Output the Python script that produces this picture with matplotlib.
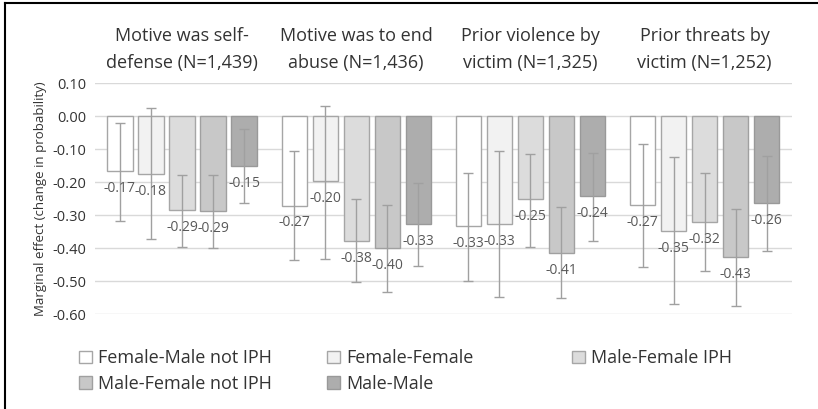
import numpy as np
import matplotlib
matplotlib.use('Agg')
import matplotlib.pyplot as plt
from matplotlib.patches import Patch
from matplotlib.lines import Line2D

plt.rcParams['font.family'] = ['Open Sans', 'DejaVu Sans']

groups = ['Motive was self-\ndefense (N=1,439)', 'Motive was to end\nabuse (N=1,436)',
          'Prior violence by\nvictim (N=1,325)', 'Prior threats by\nvictim (N=1,252)']
series = ['Female-Male not IPH', 'Female-Female', 'Male-Female IPH',
          'Male-Female not IPH', 'Male-Male']

# point estimates per series, one value per group
fm_not_iph = [-0.168, -0.271, -0.333, -0.270]
ff = [-0.176, -0.198, -0.327, -0.347]
mf_iph = [-0.286, -0.378, -0.252, -0.320]
mf_not_iph = [-0.289, -0.401, -0.414, -0.428]
mm = [-0.150, -0.327, -0.242, -0.263]

# confidence interval ends (lower, upper)
fm_not_iph_lo = [-0.317, -0.436, -0.499, -0.457]
fm_not_iph_hi = [-0.021, -0.106, -0.172, -0.084]
ff_lo = [-0.373, -0.432, -0.547, -0.570]
ff_hi = [0.024, 0.031, -0.107, -0.123]
mf_iph_lo = [-0.396, -0.503, -0.396, -0.469]
mf_iph_hi = [-0.180, -0.250, -0.115, -0.172]
mf_not_iph_lo = [-0.400, -0.532, -0.550, -0.576]
mf_not_iph_hi = [-0.178, -0.270, -0.277, -0.283]
mm_lo = [-0.263, -0.455, -0.378, -0.409]
mm_hi = [-0.038, -0.202, -0.111, -0.120]

yticks = [0.10, 0.00, -0.10, -0.20, -0.30, -0.40, -0.50, -0.60]

vals = [fm_not_iph, ff, mf_iph, mf_not_iph, mm]
los = [fm_not_iph_lo, ff_lo, mf_iph_lo, mf_not_iph_lo, mm_lo]
his = [fm_not_iph_hi, ff_hi, mf_iph_hi, mf_not_iph_hi, mm_hi]
fills = ['#ffffff', '#f2f2f2', '#dcdcdc', '#c8c8c8', '#adadad']
edges = ['#a6a6a6', '#a6a6a6', '#a6a6a6', '#a0a0a0', '#999999']

fig = plt.figure(figsize=(8.18, 4.09), dpi=100)
ax = fig.add_axes([0.116, 0.232, 0.852, 0.565])

x = np.arange(len(groups))
step = 0.178
width = 0.144
handles = []
for i in range(len(series)):
    xs = x + (i - 2) * step
    v = np.array(vals[i])
    ax.bar(xs, v, width, color=fills[i], edgecolor=edges[i], linewidth=1, zorder=2)
    yerr = [v - np.array(los[i]), np.array(his[i]) - v]
    ax.errorbar(xs, v, yerr=yerr, fmt='none', ecolor='#a0a0a0', elinewidth=1,
                capsize=3.5, capthick=1, zorder=3)
    for xx, vv in zip(xs, v):
        ax.text(xx, vv - 0.053, '%.2f' % vv, ha='center', va='center',
                fontsize=10, color='#595959', zorder=4)
    handles.append(Patch(facecolor=fills[i], edgecolor=edges[i], linewidth=1))

ax.set_xlim(-0.5, len(groups) - 0.5)
ax.set_ylim(-0.6, 0.1)
ax.set_yticks(yticks)
ax.set_yticklabels(['%.2f' % t for t in yticks], fontsize=10.5, color='#333333')
ax.set_xticks([])
ax.tick_params(axis='y', length=0, pad=6)
ax.grid(axis='y', color='#d9d9d9', linewidth=1, zorder=0)
ax.set_axisbelow(True)
for s in ax.spines.values():
    s.set_visible(False)

for gx, g in zip(x, groups):
    ax.text(gx, 1.145, g, transform=ax.get_xaxis_transform(), ha='center', va='center',
            fontsize=13, color='#333333', linespacing=1.6)

fig.text(0.049, 0.514, 'Marginal effect (change in probability)', rotation=90,
         ha='center', va='center', fontsize=9.5, color='#333333')

# legend in three equal-width columns, filled row by row
cols = [[0, 3], [1, 4], [2]]
col_x = [0.096, 0.400, 0.699]
for cx, idx in zip(col_x, cols):
    fig.legend([handles[k] for k in idx], [series[k] for k in idx], loc='upper left',
               bbox_to_anchor=(cx, 0.146), frameon=False, borderpad=0,
               borderaxespad=0, handlelength=0.72, handleheight=0.72,
               handletextpad=0.35, labelspacing=0.4, fontsize=13,
               labelcolor='#333333')

# partial frame on top and left
fig.add_artist(Line2D([0.006, 0.006], [0.0, 0.993], color='black', linewidth=1.5,
                      transform=fig.transFigure))
fig.add_artist(Line2D([0.006, 1.0], [0.993, 0.993], color='black', linewidth=1.5,
                      transform=fig.transFigure))

fig.savefig('out.png', dpi=100)
